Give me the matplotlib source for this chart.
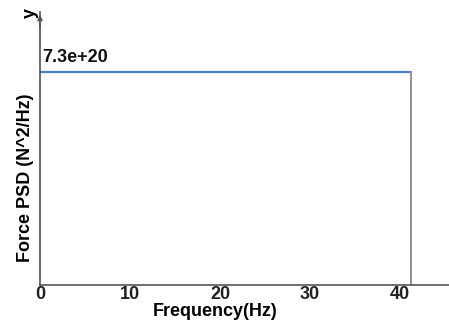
import matplotlib.pyplot as plt

# data
freq = [0, 41.2]
psd = [7.3e20, 7.3e20]
xticks = [0, 10, 20, 30, 40]
ylabel_txt = "Force PSD (N^2/Hz)"
xlabel_txt = "Frequency(Hz)"

plt.rcParams['font.family'] = ['Liberation Sans', 'DejaVu Sans']
plt.rcParams['font.weight'] = 'bold'
fs = 13

fig = plt.figure(figsize=(4.49, 3.23), dpi=100)
W, H = 449.0, 323.0
# axes in pixel terms: left 40, right 449, bottom 285, top 12
ax = fig.add_axes([40 / W, (H - 285) / H, (449 - 40) / W, (285 - 12) / H])

ymax = 7.3e20 / 0.78
ax.set_xlim(0, (449 - 40) / 9.0)
ax.set_ylim(0, ymax)

ax.plot(freq, psd, color="#4a7fd0", lw=1.6, solid_capstyle="butt")
ax.plot([freq[-1], freq[-1]], [0, psd[-1]], color="#909090", lw=1.4)

for s in ["top", "right"]:
    ax.spines[s].set_visible(False)
for s in ["left", "bottom"]:
    ax.spines[s].set_color("#555555")
    ax.spines[s].set_linewidth(1.2)

ax.set_xticks(xticks)
ax.set_xticklabels([str(t) for t in xticks], fontsize=fs, fontweight="bold")
ax.tick_params(axis="x", length=0, pad=1, colors="#222222")
ax.set_yticks([])

ax.set_xlabel(xlabel_txt, fontsize=fs, fontweight="bold")
ax.xaxis.set_label_coords((215 - 40) / (449 - 40), -(303 - 285) / (285 - 12))
ax.set_ylabel(ylabel_txt, fontsize=fs, fontweight="bold")
ax.yaxis.set_label_coords(-0.015, (285 - 178) / (285 - 12))

ax.text(0.2, psd[0] * 1.03, "7.3e+20", fontsize=fs, fontweight="bold",
        ha="left", va="bottom", color="#111111")

# arrow at top of y axis and axis name
ax.annotate("", xy=(0, ymax * 1.0), xytext=(0, ymax * 0.93),
            arrowprops=dict(arrowstyle="-|>", color="#555555", lw=1.2,
                            mutation_scale=7), annotation_clip=False)
fig.text(30 / W, 1 - 13 / H, "y", fontsize=fs, fontweight="bold",
         ha="center", va="center", rotation=90)

fig.savefig("out.png", dpi=100)
